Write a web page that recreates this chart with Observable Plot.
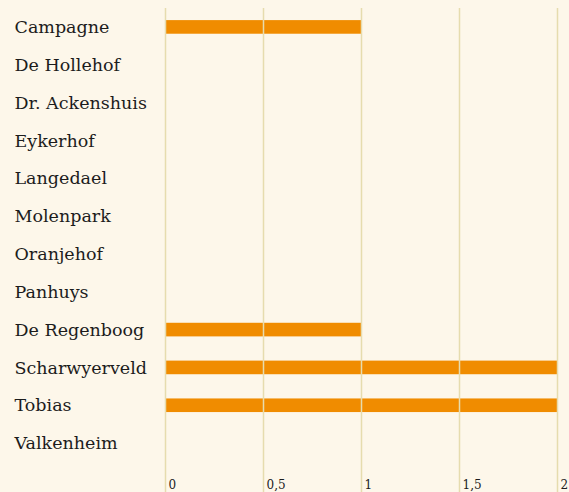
<!DOCTYPE html>
<html>
<head>
<meta charset="utf-8">
<script src="https://cdn.jsdelivr.net/npm/d3@7"></script>
<script src="https://cdn.jsdelivr.net/npm/@observablehq/plot@0.6"></script>
<style>
  html, body { margin: 0; padding: 0; background: #fdf7ea; }
  #chart svg { display: block; }
</style>
</head>
<body>
<div id="chart"></div>
<script>
const categories = ["Campagne", "De Hollehof", "Dr. Ackenshuis", "Eykerhof", "Langedael", "Molenpark", "Oranjehof", "Panhuys", "De Regenboog", "Scharwyerveld", "Tobias", "Valkenheim"];
const values = [1, 0, 0, 0, 0, 0, 0, 0, 1, 2, 2, 0];
const xTicks = [0, 0.5, 1, 1.5, 2];

const data = categories.map((name, i) => ({name, value: values[i]}));

const chart = Plot.plot({
  width: 569,
  height: 492,
  marginLeft: 165,
  marginRight: 12,
  marginTop: 8,
  marginBottom: 30,
  style: {background: "#fdf7ea", fontFamily: "'DejaVu Serif', serif", color: "#1c1c1c"},
  x: {domain: [0, 2], axis: null, label: null},
  y: {domain: categories, paddingInner: 0.64, paddingOuter: 0.32, align: 0.5, round: false, axis: null, label: null},
  marks: [
    Plot.barX(data, {x: "value", y: "name", fill: "#f08c00"}),
    Plot.ruleX(xTicks, {stroke: "#e6dcae", strokeWidth: 1.5, insetTop: 0, insetBottom: -30}),
    Plot.axisY({tickSize: 0, tickPadding: 0, textAnchor: "start", dx: -151, fontSize: 17.5, fill: "#1c1c1c", label: null}),
    Plot.axisX({ticks: xTicks, tickSize: 0, tickPadding: 18, textAnchor: "start", dx: 3, fontSize: 12, fill: "#1c1c1c", label: null,
      tickFormat: d => String(d).replace(".", ",")})
  ]
});
document.getElementById("chart").append(chart);
</script>
</body>
</html>
